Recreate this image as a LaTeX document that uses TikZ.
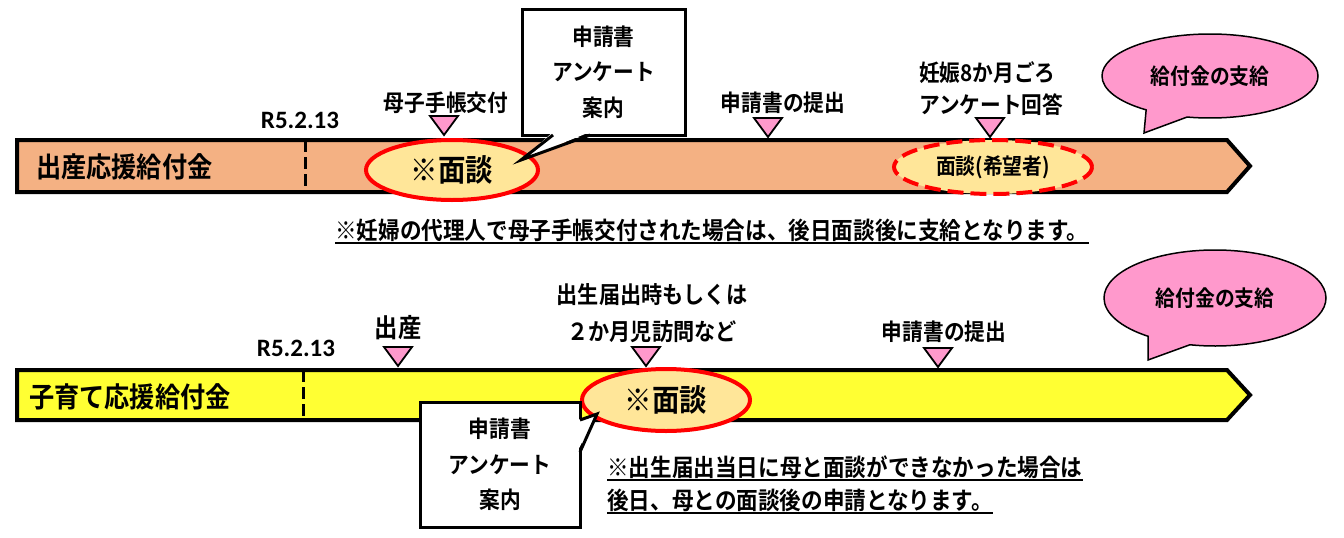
\documentclass[tikz,border=0pt]{standalone}
\usepackage{fontspec}
\setmainfont{Noto Sans CJK JP}[FakeStretch=0.9, BoldFont=* Bold]
\newfontfamily\lat{Carlito}
\usetikzlibrary{shapes.geometric,shapes.callouts}
\definecolor{salmon}{HTML}{F4B183}
\definecolor{ylw}{HTML}{FFFF33}
\definecolor{cream}{HTML}{FFE699}
\definecolor{pnk}{HTML}{FF99CC}
\definecolor{rd}{HTML}{FF0000}
\newcommand\fsz[2]{\fontsize{#1}{#2}\selectfont}
\newcommand\tmark[2]{\filldraw[tri] (#1,#2) -- ++(-14,-19) -- ++(28,0) -- cycle;}
\tikzset{
  barshape/.style={draw=black, line width=4pt, line join=miter},
  dashline/.style={line width=3pt, dash pattern=on 12pt off 5pt},
  tri/.style={draw=black, fill=pnk, line width=1.8pt, line join=miter},
  meet/.style={ellipse, draw=rd, fill=cream, line width=4pt, inner sep=0pt},
  cbox/.style={draw=black, fill=white, line width=3pt, inner sep=0pt, outer sep=0pt, align=center, font=\bfseries\fsz{23}{35.5}},
  tail/.style={draw=black, line width=3pt, line join=miter},
  lbl/.style={inner sep=0pt, font=\bfseries\fsz{23}{32}},
  date/.style={inner sep=0pt, font=\lat\bfseries\fsz{25}{25}},
  barlbl/.style={inner sep=0pt, anchor=west, font=\bfseries\fsz{28}{30}},
  bubble/.style={ellipse callout, draw=black, fill=pnk, line width=1.5pt, inner sep=0pt, callout pointer arc=24, font=\bfseries\fsz{22}{22}},
  note/.style={inner sep=0pt, anchor=base west, font=\bfseries\fsz{24}{24}},
  uline/.style={line width=2pt}
}
\begin{document}
\begin{tikzpicture}[x=1pt,y=-1pt]
\useasboundingbox (0,0) rectangle (1344,538);
% ---------- top timeline ----------
\draw[barshape, fill=salmon] (17,140) -- (1227,140) -- (1250,166) -- (1227,192) -- (17,192) -- cycle;
\draw[dashline] (305,140) -- (305,194);
\node[barlbl] (b1) at (36,167) {出産応援給付金};
\node[date] (d1) at (300,120) {R5.2.13};
\tmark{444}{135}
\tmark{768}{137}
\tmark{990}{137}
\node[lbl] (l1) at (446,103) {母子手帳交付};
\node[lbl] (l2) at (783,103) {申請書の提出};
\node[lbl, align=left, anchor=west] (l3) at (919,89) {妊娠8か月ごろ\\アンケート回答};
\node[meet, minimum width=172pt, minimum height=60pt, font=\bfseries\fsz{30.5}{30.5}] (m1) at (452,170) {※面談};
\node[meet, dash pattern=on 16pt off 7pt, minimum width=198pt, minimum height=54pt, font=\bfseries\fsz{22}{22}] (m2) at (993,167) {面談(希望者)};
\node[cbox, minimum width=163pt, minimum height=126pt] (c1) at (603.5,72) {申請書\\アンケート\\案内};
\coordinate (c1tip) at (521,160);
\fill[white] ([xshift=-50.5pt,yshift=3pt]c1.south) -- (c1tip) -- ([xshift=-13.5pt,yshift=3pt]c1.south) -- cycle;
\draw[tail] ([xshift=-50.5pt]c1.south) -- (c1tip) -- ([xshift=-13.5pt]c1.south);
\node[bubble, minimum width=216pt, minimum height=84pt, callout absolute pointer={(1144,133)}] (g1) at (1210,76) {給付金の支給};
\node[note] (n1) at (335,239) {※妊婦の代理人で母子手帳交付された場合は、後日面談後に支給となります。};
\draw[uline] ([yshift=-4pt]n1.base west) -- ([yshift=-4pt]n1.base east);
% ---------- bottom timeline ----------
\draw[barshape, fill=ylw] (17,370) -- (1227,370) -- (1250,395) -- (1227,420) -- (17,420) -- cycle;
\draw[dashline] (303,370) -- (303,422);
\node[barlbl] (b2) at (29,397) {子育て応援給付金};
\node[date] (d2) at (296,348) {R5.2.13};
\tmark{398}{366}
\tmark{646}{366}
\tmark{938}{367}
\node[lbl, font=\bfseries\fsz{26}{26}] (l4) at (398,328) {出産};
\node[lbl, align=center, font=\bfseries\fsz{23.5}{37}] (l5) at (652,313) {出生届出時もしくは\\２か月児訪問など};
\node[lbl] (l6) at (944,332) {申請書の提出};
\node[meet, minimum width=168pt, minimum height=62pt, font=\bfseries\fsz{30.5}{30.5}] (m3) at (666,400) {※面談};
\node[cbox, minimum width=160pt, minimum height=125pt] (c2) at (500,464.5) {申請書\\アンケート\\案内};
\coordinate (c2tip) at (597,414);
\fill[white] ([xshift=-3pt,yshift=44.5pt]c2.east) -- (c2tip) -- ([xshift=-3pt,yshift=12.5pt]c2.east) -- cycle;
\draw[tail] ([yshift=44.5pt]c2.east) -- (c2tip) -- ([yshift=12.5pt]c2.east);
\node[bubble, minimum width=222pt, minimum height=96pt, callout absolute pointer={(1148,360)}] (g2) at (1215,298) {給付金の支給};
\node[note] (n2) at (607,476) {※出生届出当日に母と面談ができなかった場合は};
\draw[uline] ([yshift=-4pt]n2.base west) -- ([yshift=-4pt]n2.base east);
\node[note] (n3) at (607,509) {後日、母との面談後の申請となります。};
\draw[uline] ([yshift=-4pt]n3.base west) -- ([yshift=-4pt]n3.base east);
\end{tikzpicture}
\end{document}
